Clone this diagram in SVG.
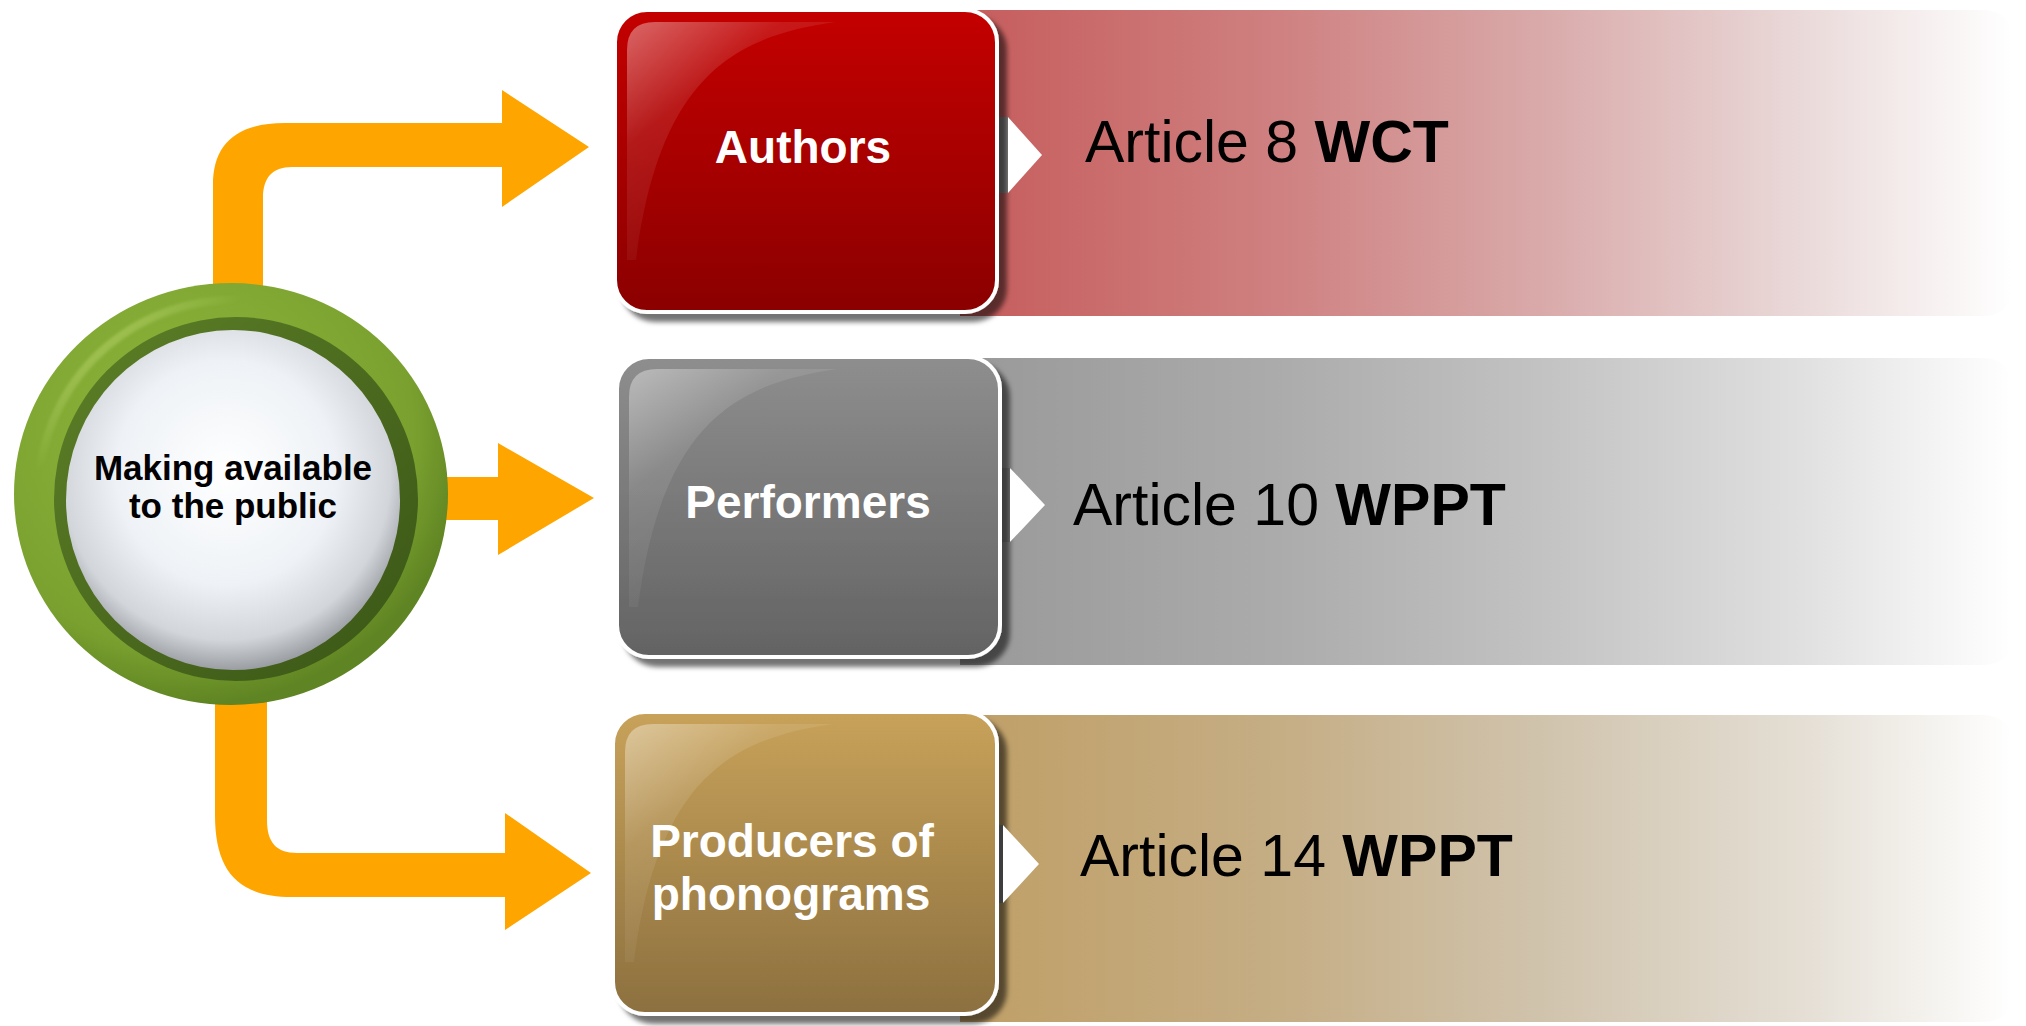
<svg xmlns="http://www.w3.org/2000/svg" width="2026" height="1026" viewBox="0 0 2026 1026">
<defs>
  <linearGradient id="bandRed" x1="960" y1="0" x2="2012" y2="0" gradientUnits="userSpaceOnUse">
    <stop offset="0" stop-color="#c65c5c"/>
    <stop offset="0.3" stop-color="#cf8080"/>
    <stop offset="0.55" stop-color="#d9a9a9"/>
    <stop offset="0.8" stop-color="#ead9d9"/>
    <stop offset="1" stop-color="#ffffff"/>
  </linearGradient>
  <linearGradient id="bandGray" x1="960" y1="0" x2="2012" y2="0" gradientUnits="userSpaceOnUse">
    <stop offset="0" stop-color="#999999"/>
    <stop offset="0.3" stop-color="#ababab"/>
    <stop offset="0.55" stop-color="#c2c2c2"/>
    <stop offset="0.8" stop-color="#e0e0e0"/>
    <stop offset="1" stop-color="#ffffff"/>
  </linearGradient>
  <linearGradient id="bandTan" x1="960" y1="0" x2="2012" y2="0" gradientUnits="userSpaceOnUse">
    <stop offset="0" stop-color="#bf9f66"/>
    <stop offset="0.3" stop-color="#c5ad84"/>
    <stop offset="0.55" stop-color="#d0c3ac"/>
    <stop offset="0.8" stop-color="#e4ded4"/>
    <stop offset="1" stop-color="#ffffff"/>
  </linearGradient>
  <linearGradient id="boxRed" x1="0" y1="0" x2="0" y2="1">
    <stop offset="0" stop-color="#c40606"/>
    <stop offset="1" stop-color="#8b0000"/>
  </linearGradient>
  <linearGradient id="boxGray" x1="0" y1="0" x2="0" y2="1">
    <stop offset="0" stop-color="#8e8e8e"/>
    <stop offset="1" stop-color="#636363"/>
  </linearGradient>
  <linearGradient id="boxTan" x1="0" y1="0" x2="0" y2="1">
    <stop offset="0" stop-color="#c8a25a"/>
    <stop offset="1" stop-color="#8c703f"/>
  </linearGradient>
  <linearGradient id="gloss" x1="0" y1="0" x2="0.7" y2="1">
    <stop offset="0" stop-color="#ffffff" stop-opacity="0.4"/>
    <stop offset="0.35" stop-color="#ffffff" stop-opacity="0.1"/>
    <stop offset="1" stop-color="#ffffff" stop-opacity="0"/>
  </linearGradient>
  <radialGradient id="ringGrad" cx="0.4" cy="0.35" r="0.65">
    <stop offset="0" stop-color="#8fb83c"/>
    <stop offset="0.8" stop-color="#7aa12f"/>
    <stop offset="1" stop-color="#5f8423"/>
  </radialGradient>
  <linearGradient id="darkRing" x1="0" y1="0" x2="1" y2="1">
    <stop offset="0" stop-color="#5d8027"/>
    <stop offset="1" stop-color="#3a5516"/>
  </linearGradient>
  <radialGradient id="sphere" cx="0.48" cy="0.42" r="0.6">
    <stop offset="0" stop-color="#ffffff"/>
    <stop offset="0.55" stop-color="#eef2f6"/>
    <stop offset="0.82" stop-color="#d2d6da"/>
    <stop offset="1" stop-color="#8e9296"/>
  </radialGradient>
  <linearGradient id="ringHi" x1="0" y1="0" x2="1" y2="1">
    <stop offset="0" stop-color="#c8e07a" stop-opacity="0.9"/>
    <stop offset="0.5" stop-color="#c8e07a" stop-opacity="0"/>
  </linearGradient>
  <filter id="shadow" x="-10%" y="-10%" width="125%" height="125%">
    <feDropShadow dx="8" dy="8" stdDeviation="2.5" flood-color="#000000" flood-opacity="0.55"/>
  </filter>
  <filter id="soft" x="-5%" y="-5%" width="110%" height="110%">
    <feGaussianBlur stdDeviation="1.5"/>
  </filter>
  <style>
    .arrow { fill: #ffa500; }
    .box { stroke: #ffffff; stroke-width: 4; filter: url(#shadow); }
    .glossy { fill: url(#gloss); }
    .boxtext { font-family: "Liberation Sans", Arial, sans-serif; font-weight: bold; font-size: 46px; fill: #ffffff; text-anchor: middle; }
    .art { font-family: "Liberation Sans", Arial, sans-serif; font-size: 59px; fill: #000000; }
    .art tspan.b { font-weight: bold; }
    .center { font-family: "Liberation Sans", Arial, sans-serif; font-weight: bold; font-size: 35px; fill: #000000; text-anchor: middle; }
    .tri { fill: #ffffff; }
    .tribase { fill: #888888; }
  </style>
</defs>

<!-- bands -->
<g id="bands">
  <path d="M960,10 H1982 Q2012,10 2012,40 V286 Q2012,316 1982,316 H960 Z" fill="url(#bandRed)"/>
  <path d="M960,358 H1982 Q2012,358 2012,388 V635 Q2012,665 1982,665 H960 Z" fill="url(#bandGray)"/>
  <path d="M960,715 H1982 Q2012,715 2012,745 V992 Q2012,1022 1982,1022 H960 Z" fill="url(#bandTan)"/>
</g>

<!-- connectors -->
<g id="connectors">
  <path class="arrow" d="M213,300 L213,185 C213,145 235,123 285,123 L502,123 L502,90 L589,147 L502,207 L502,167 L292,167 C272,167 263,178 263,198 L263,300 Z"/>
  <path class="arrow" d="M440,477 L498,477 L498,443 L594,498 L498,555 L498,520 L440,520 Z"/>
  <path class="arrow" d="M215,690 L215,815 C215,870 237,897 292,897 L505,897 L505,930 L591,873 L505,813 L505,853 L297,853 C276,853 267,842 267,820 L267,690 Z"/>
</g>

<!-- center node -->
<g id="node-center">
  <ellipse cx="231" cy="494" rx="217" ry="211" fill="url(#ringGrad)"/>
  <path d="M40,470 A195,195 0 0 1 240,300" fill="none" stroke="url(#ringHi)" stroke-width="8" stroke-linecap="round" filter="url(#soft)"/>
  <ellipse cx="236" cy="499" rx="182" ry="182" fill="url(#darkRing)"/>
  <ellipse cx="233" cy="500" rx="167" ry="170" fill="url(#sphere)"/>
  <text class="center" x="233" y="480">Making available</text>
  <text class="center" x="233" y="518">to the public</text>
</g>

<!-- Authors -->
<g id="node-authors">
  <rect class="tribase" x="996" y="117" width="12" height="76"/>
  <rect class="box" x="615" y="10" width="382" height="302" rx="32" fill="url(#boxRed)"/>
  <path class="glossy" d="M627,50 Q627,22 655,22 L835,22 C740,36 660,70 636,260 L627,260 Z"/>
  <polygon class="tri" points="1008,117 1042,155 1008,193"/>
  <text class="boxtext" x="803" y="163">Authors</text>
</g>
<g id="label-authors">
  <text class="art" x="1085" y="162">Article 8 <tspan class="b">WCT</tspan></text>
</g>

<!-- Performers -->
<g id="node-performers">
  <rect class="tribase" x="999" y="468" width="12" height="74"/>
  <rect class="box" x="617" y="357" width="383" height="300" rx="32" fill="url(#boxGray)"/>
  <path class="glossy" d="M629,397 Q629,369 657,369 L837,369 C742,383 662,417 638,607 L629,607 Z"/>
  <polygon class="tri" points="1010,468 1045,505 1010,542"/>
  <text class="boxtext" x="808" y="518">Performers</text>
</g>
<g id="label-performers">
  <text class="art" x="1073" y="525">Article 10 <tspan class="b">WPPT</tspan></text>
</g>

<!-- Producers of phonograms -->
<g id="node-producers">
  <rect class="tribase" x="994" y="825" width="10" height="78"/>
  <rect class="box" x="613" y="712" width="384" height="302" rx="32" fill="url(#boxTan)"/>
  <path class="glossy" d="M625,752 Q625,724 653,724 L833,724 C738,738 658,772 634,962 L625,962 Z"/>
  <polygon class="tri" points="1003,825 1039,864 1003,903"/>
  <text class="boxtext" x="792" y="857">Producers of</text>
  <text class="boxtext" x="791" y="910">phonograms</text>
</g>
<g id="label-producers">
  <text class="art" x="1080" y="876">Article 14 <tspan class="b">WPPT</tspan></text>
</g>
</svg>
